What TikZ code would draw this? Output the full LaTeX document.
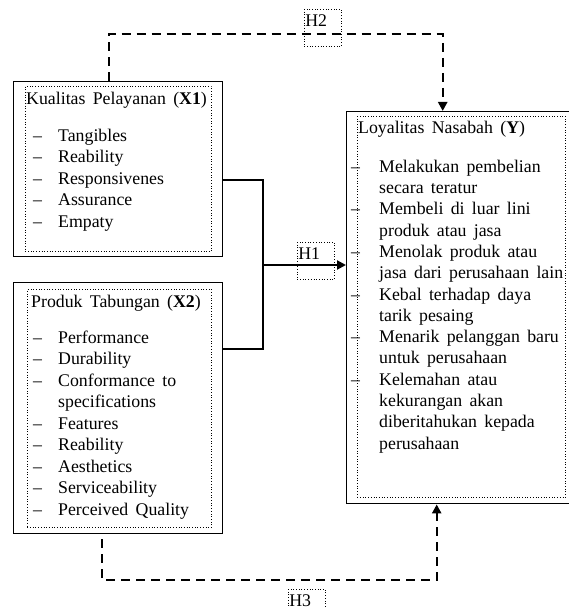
\documentclass[tikz,border=0pt]{standalone}
\usepackage{fontspec}
\setmainfont{Liberation Serif}
\usetikzlibrary{positioning,arrows.meta}

\newcommand{\xdash}{\makebox[32pt][l]{\hspace*{7pt}\textendash}}
\newcommand{\xind}{\hspace*{32pt}}
\newcommand{\ydash}{\makebox[21pt][l]{\hspace*{-7pt}\textendash}}
\newcommand{\yind}{\hspace*{21pt}}
\newcommand{\boxfont}[1]{\fontsize{17.8}{#1}\selectfont\spaceskip 7.3pt\relax}

\begin{document}
\begin{tikzpicture}[x=1pt, y=-1pt, >={Triangle[length=9pt,width=9pt]},
  outerbox/.style={draw, line width=1.4pt, anchor=north west, inner sep=0pt},
  framebox/.style={draw, dotted, line width=0.7pt, anchor=north west, inner sep=0pt},
  boxtext/.style={anchor=north west, align=left, inner sep=0pt,
                  font=\boxfont{21.5}},
  hypbox/.style={draw, dotted, line width=0.7pt, anchor=north west, inner sep=1pt,
                 text width=35pt, text height=16pt, text depth=19pt, align=left,
                 font=\fontsize{17.8}{20}\selectfont},
  conn/.style={line width=2pt},
  hyp/.style={line width=2.4pt, dash pattern=on 9pt off 6pt}]
  \useasboundingbox (0,0) rectangle (568,607);

  % Kualitas Pelayanan (X1)
  \node (x1)  [outerbox, minimum width=209pt, minimum height=175pt] at (13,81) {};
  \node (x1f) [framebox, minimum width=186pt, minimum height=165pt] at (25,86) {};
  \node (x1t) [boxtext] at (26,88.95)
    {\strut Kualitas Pelayanan (\textbf{X1})\\[15.5pt]
     \xdash Tangibles\\
     \xdash Reability\\
     \xdash Responsivenes\\
     \xdash Assurance\\
     \xdash Empaty};

  % Produk Tabungan (X2)
  \node (x2)  [outerbox, minimum width=209pt, minimum height=251pt] at (13,282) {};
  \node (x2f) [framebox, minimum width=184pt, minimum height=238pt] at (27,289) {};
  \node (x2t) [boxtext] at (26,291.95)
    {\strut\hspace*{5pt}Produk Tabungan (\textbf{X2})\\[14.5pt]
     \xdash Performance\\
     \xdash Durability\\
     \xdash Conformance to\\
     \xind specifications\\
     \xdash Features\\
     \xdash Reability\\
     \xdash Aesthetics\\
     \xdash Serviceability\\
     \xdash Perceived Quality};

  % Loyalitas Nasabah (Y)
  \node (y)  [outerbox, minimum width=226pt, minimum height=392pt] at (346,111) {};
  \node (yf) [framebox, minimum width=208pt, minimum height=381pt] at (357,116) {};
  \node (yt) [boxtext, font=\boxfont{21.3}] at (358,118.09)
    {\strut Loyalitas Nasabah (\textbf{Y})\\[17.7pt]
     \ydash Melakukan pembelian\\
     \yind secara teratur\\
     \ydash Membeli di luar lini\\
     \yind produk atau jasa\\
     \ydash Menolak produk atau\\
     \yind jasa dari perusahaan lain\\
     \ydash Kebal terhadap daya\\
     \yind tarik pesaing\\
     \ydash Menarik pelanggan baru\\
     \yind untuk perusahaan\\
     \ydash Kelemahan atau\\
     \yind kekurangan akan\\
     \yind diberitahukan kepada\\
     \yind perusahaan};

  % hipotesis
  \node (h2) [hypbox] at (304,9) {H2};
  \node (h1) [hypbox] at (297,242) {H1};
  \node (h3) [hypbox] at (288,589) {H3};

  \coordinate (hub) at (263,265);
  \coordinate (h2mid) at (323,34);
  \coordinate (h3mid) at (300,580);

  \draw[conn] ([yshift=-10.5pt]x1.east) -| (hub);
  \draw[conn] ([yshift=59.5pt]x2.east) -| (hub);
  \draw[conn,->] (hub) -- (hub -| y.west);
  \draw[hyp,->] ([xshift=-9.5pt]x1.north) |- (h2mid) -| ([xshift=-17pt]y.north);
  \draw[hyp,->] ([xshift=-16.5pt,yshift=-5pt]x2.south) |- (h3mid)
    -| ([xshift=-23pt]y.south);
\end{tikzpicture}
\end{document}
